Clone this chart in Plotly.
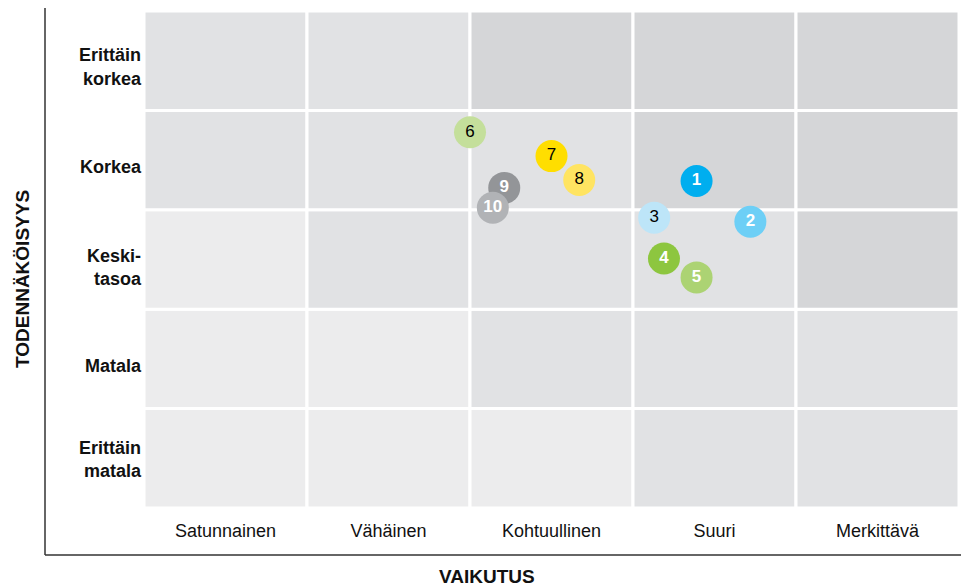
import plotly.graph_objects as go

# ---- data ----
impact_labels = ["Satunnainen", "Vähäinen", "Kohtuullinen", "Suuri", "Merkittävä"]
likelihood_labels = ["Erittäin<br>matala", "Matala", "Keski-<br>tasoa", "Korkea", "Erittäin<br>korkea"]
# risk level per cell, rows bottom->top, cols left->right (0 low, 1 mid, 2 high)
cell_levels = [
    [0, 0, 0, 1, 1],
    [0, 0, 1, 1, 1],
    [0, 1, 1, 1, 2],
    [1, 1, 1, 2, 2],
    [1, 1, 2, 2, 2],
]
level_colors = ["#ececed", "#e1e2e4", "#d5d6d8"]

risk_ids = ["1", "2", "3", "4", "5", "6", "7", "8", "9", "10"]
risk_impact = [3.39, 3.72, 3.13, 3.19, 3.39, 2.00, 2.50, 2.67, 2.21, 2.14]
risk_likelihood = [3.29, 2.88, 2.92, 2.51, 2.32, 3.78, 3.54, 3.30, 3.22, 3.02]
risk_colors = ["#00aeef", "#6dcff6", "#bde5f8", "#8dc63f", "#acd373",
               "#c4df9b", "#ffde00", "#ffe461", "#939598", "#b1b3b6"]
risk_text_colors = ["white", "white", "black", "white", "white",
                    "black", "black", "black", "white", "white"]

# label placement (layout only)
x_tick_pos = [0.5, 1.5, 2.5, 3.5, 4.5]
y_tick_pos = [0.49, 1.43, 2.42, 3.43, 4.44]

FONT = "Liberation Sans, Arial, Helvetica, sans-serif"

fig = go.Figure()

shapes = []
for r, row in enumerate(cell_levels):
    for c, lvl in enumerate(row):
        shapes.append(dict(type="rect", xref="x", yref="y",
                           x0=c, x1=c + 1, y0=r, y1=r + 1,
                           fillcolor=level_colors[lvl],
                           line=dict(color="white", width=3),
                           layer="below"))

# outer axis lines
L, R, T, B = 144, 959, 11, 508
def px(xp):
    return (xp - L) / (R - L)
def py(yp):
    return (B - yp) / (B - T)

shapes.append(dict(type="line", xref="paper", yref="paper",
                   x0=px(45), x1=px(45), y0=py(8), y1=py(555),
                   line=dict(color="#333333", width=1.5)))
shapes.append(dict(type="line", xref="paper", yref="paper",
                   x0=px(45), x1=px(961), y0=py(555), y1=py(555),
                   line=dict(color="#333333", width=1.5)))

for i in range(len(risk_ids)):
    bold = risk_text_colors[i] == "white"
    fig.add_trace(go.Scatter(
        x=[risk_impact[i]], y=[risk_likelihood[i]],
        mode="markers+text",
        marker=dict(size=32, color=risk_colors[i], line=dict(width=0)),
        text=[f"<b>{risk_ids[i]}</b>" if bold else risk_ids[i]],
        textposition="middle center",
        textfont=dict(color=risk_text_colors[i], size=17, family=FONT),
        hoverinfo="skip",
        showlegend=False,
    ))

fig.update_layout(
    width=963, height=587,
    margin=dict(l=L, r=963 - R, t=T, b=587 - B),
    paper_bgcolor="white", plot_bgcolor="white",
    shapes=shapes,
    font=dict(family=FONT, color="black"),
    xaxis=dict(range=[0, 5], showgrid=False, zeroline=False, showline=False,
               tickmode="array", tickvals=x_tick_pos,
               ticktext=impact_labels, tickfont=dict(size=18, color="#111"),
               ticklabelstandoff=10, fixedrange=True),
    yaxis=dict(range=[0, 5], showgrid=False, zeroline=False, showline=False,
               tickmode="array", tickvals=y_tick_pos,
               ticktext=[f"<b>{t}</b>" for t in likelihood_labels],
               tickfont=dict(size=18, color="#111"),
               ticklabelstandoff=2, fixedrange=True),
    annotations=[
        dict(text="<b>VAIKUTUS</b>", xref="paper", yref="paper",
             x=px(487), y=py(576), xanchor="center", yanchor="middle",
             showarrow=False, font=dict(size=19, color="#111")),
        dict(text="<b>TODENNÄKÖISYYS</b>", xref="paper", yref="paper",
             x=px(22), y=py(279), xanchor="center", yanchor="middle",
             showarrow=False, textangle=-90,
             font=dict(size=19, color="#111")),
    ],
)

fig.write_html("out.html",
               config={"displayModeBar": False, "staticPlot": True},
               post_script="document.body.style.margin='0';document.body.style.overflow='hidden';")
